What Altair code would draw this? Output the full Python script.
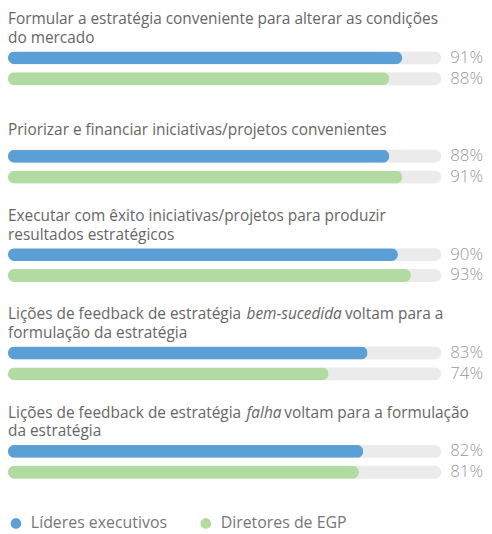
import altair as alt
import pandas as pd

# ---- data ----
title_start = [
    "Formular a estratégia conveniente para alterar as condições",
    "Priorizar e financiar iniciativas/projetos convenientes",
    "Executar com êxito iniciativas/projetos para produzir",
    "Lições de feedback de estratégia",
    "Lições de feedback de estratégia",
]
title_italic = ["", "", "", "bem-sucedida", "falha"]
title_end = ["", "", "", "voltam para a", "voltam para a formulação"]
title_line2 = [" do mercado", "", "resultados estratégicos",
               "formulação da estratégia", "da estratégia"]
series = ["Líderes executivos", "Diretores de EGP"]
lideres = [91, 88, 90, 83, 82]
diretores = [88, 91, 93, 74, 81]
colors = ["#5b9fd7", "#b1dba1"]

groups = [f"g{i}" for i in range(len(title_start))]

bars = pd.DataFrame(
    [{"grupo": g, "serie": series[0], "valor": v} for g, v in zip(groups, lideres)]
    + [{"grupo": g, "serie": series[1], "valor": v} for g, v in zip(groups, diretores)]
)
titles = pd.DataFrame({
    "grupo": groups,
    "l1": title_start,
    "l2": title_line2,
    "italico": title_italic,
    "fim": title_end,
})

FONT = "Open Sans"
FS = 15.5
TCOL = "#666666"
DY_L1 = -35   # baseline of first title line, relative to band centre
DY_L2 = -16   # baseline of second title line
DY_ONE = -22  # baseline of a one-line title

yenc = alt.Y("grupo:N", sort=groups, axis=None,
             scale=alt.Scale(domain=groups, paddingInner=0, paddingOuter=0))
# two empty slots above the bars leave room for the group title
slots = ["_t1", "_t2"] + series
yoff = alt.YOffset("serie:N", sort=slots,
                   scale=alt.Scale(domain=slots, paddingInner=0.38,
                                   paddingOuter=0.547, align=0))
xscale = alt.Scale(domain=[0, 100])

base = alt.Chart(bars)

track = base.mark_bar(color="#ebebeb", cornerRadius=6.5).encode(
    x=alt.datum(100, scale=xscale, axis=None),
    y=yenc, yOffset=yoff,
)
valbar = base.mark_bar(cornerRadius=6.5).encode(
    x=alt.X("valor:Q", scale=xscale, axis=None),
    y=yenc, yOffset=yoff,
    color=alt.Color("serie:N", sort=series,
                    scale=alt.Scale(domain=series, range=colors),
                    legend=alt.Legend(title=None, orient="none", legendX=0, legendY=509,
                                      direction="horizontal", symbolType="circle",
                                      symbolSize=115, symbolStrokeWidth=0,
                                      symbolOpacity=1, labelFontSize=16,
                                      labelFont=FONT, labelColor="#777777",
                                      labelOffset=7, columnPadding=30, padding=0)),
)
pct = base.transform_calculate(rotulo="datum.valor + '%'").mark_text(
    align="left", baseline="middle", dx=9, fontSize=17, font=FONT,
    fontWeight=300, color="#999999",
).encode(
    x=alt.datum(100, scale=xscale),
    y=yenc, yOffset=yoff,
    text="rotulo:N",
)

tbase = alt.Chart(titles)
two = tbase.transform_filter("datum.l2 != ''")
one = tbase.transform_filter("datum.l2 == ''")


def ttext(src, field, dy, dx=0, style="normal"):
    return src.mark_text(
        align="left", baseline="alphabetic", fontSize=FS, font=FONT,
        fontStyle=style, color=TCOL, dy=dy, dx=dx,
    ).encode(x=alt.datum(0, scale=xscale), y=yenc, text=f"{field}:N")


layers = [
    ttext(two, "l1", DY_L1),
    ttext(two, "l2", DY_L2),
    ttext(one, "l1", DY_ONE),
]

ital_dx = {"g3": 240, "g4": 240}
end_dx = {"g3": 339, "g4": 278}
for g in ["g3", "g4"]:
    sub = tbase.transform_filter(alt.datum.grupo == g)
    layers.append(ttext(sub, "italico", DY_L1, ital_dx[g], "italic"))
    layers.append(ttext(sub, "fim", DY_L1, end_dx[g]))

chart = alt.layer(track, valbar, pct, *layers).properties(
    width=436, height=495, padding=0,
).configure_view(stroke=None)

chart.save("out.html", embed_options={"renderer": "svg", "actions": False})
